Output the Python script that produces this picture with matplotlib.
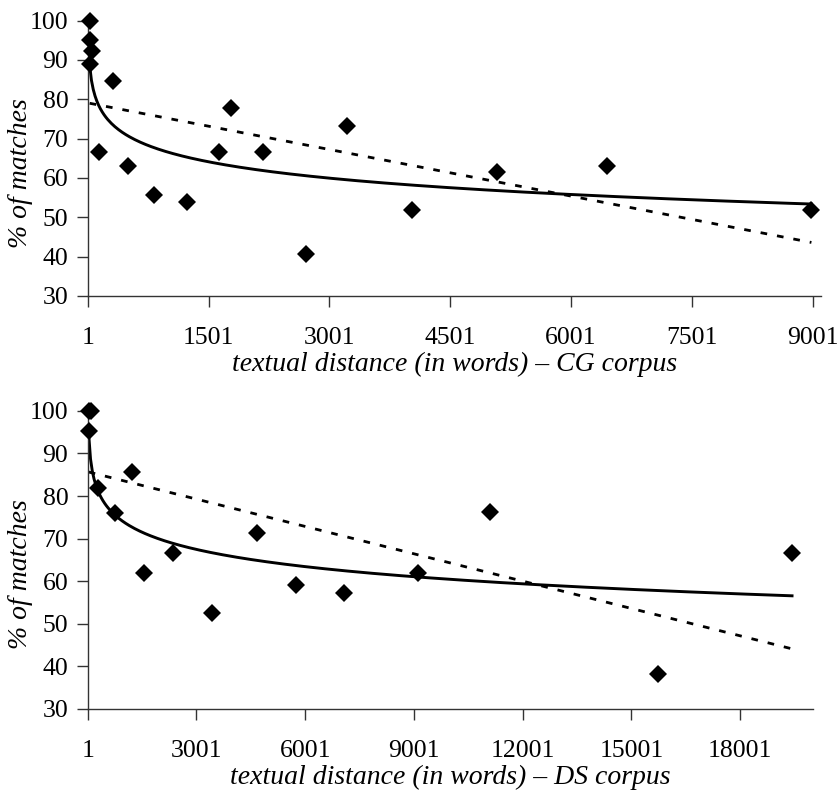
import numpy as np
import matplotlib
matplotlib.use("Agg")
import matplotlib.pyplot as plt

plt.rcParams['font.family'] = ['Liberation Serif', 'DejaVu Serif']

# CG corpus: textual distance (words) vs % of matches
cg_dist = [25, 25, 60, 30, 311, 145, 505, 828, 1234, 1632, 1781, 2183,
           2709, 3218, 4033, 5087, 6447, 8985]
cg_pct = [100, 95.2, 92.3, 89.0, 84.6, 66.7, 63.1, 55.6, 53.8, 66.7, 77.8,
          66.7, 40.7, 73.1, 51.9, 61.5, 63.0, 51.9]

# DS corpus
ds_dist = [30, 90, 30, 292, 753, 1213, 1561, 2361, 3420, 4661, 5745, 7077,
           9118, 11095, 15737, 19430]
ds_pct = [100, 100, 95.2, 81.8, 76.0, 85.7, 61.9, 66.7, 52.4, 71.4, 59.0,
          57.1, 61.9, 76.2, 38.1, 66.7]

# trend lines: log (a*ln x + b) and linear (m*x + c)
cg_log = (-6.0, 108.0)
cg_lin = (-0.00395, 79.1)
ds_log = (-5.84, 114.2)
ds_lin = (-0.002143, 85.7)

cg_ticks = [1, 1501, 3001, 4501, 6001, 7501, 9001]
ds_ticks = [1, 3001, 6001, 9001, 12001, 15001, 18001]


def draw(ax, dist, pct, log_fit, lin_fit, ticks, xmax, xlabel, ylab_xy):
    xs = np.linspace(min(dist), max(dist), 400)
    ax.plot(xs, log_fit[0] * np.log(xs) + log_fit[1], color='black', lw=2.1)
    ax.plot(xs, lin_fit[0] * xs + lin_fit[1], color='black', lw=2.0,
            dashes=(2.4, 3.6))
    ax.plot(dist, pct, linestyle='none', marker='D', ms=9, mew=0,
            color='black', clip_on=False, zorder=5)

    ax.set_xlim(1, xmax)
    ax.set_ylim(30, 100)
    ax.set_xticks(ticks)
    ax.set_xticklabels([str(t) for t in ticks])
    ax.set_yticks(range(30, 101, 10))
    ax.spines['top'].set_visible(False)
    ax.spines['right'].set_visible(False)
    for s in ['left', 'bottom']:
        ax.spines[s].set_color('#333333')
        ax.spines[s].set_linewidth(1.0)
    ax.tick_params(axis='y', direction='out', length=8, width=1,
                   color='#333333', labelsize=18.5, pad=6)
    ax.tick_params(axis='x', direction='out', length=8, width=1,
                   color='#333333', labelsize=18.5, pad=14.5)
    ax.set_xlabel(xlabel, fontsize=20, style='italic', labelpad=2)
    ax.set_ylabel('% of matches', fontsize=20, style='italic')
    ax.yaxis.set_label_coords(*ylab_xy)


fig = plt.figure(figsize=(8.4, 7.95), dpi=100)
ax1 = fig.add_axes([0.1044, 0.6277, 0.8726, 0.3463])
ax2 = fig.add_axes([0.1044, 0.1086, 0.8631, 0.3745])

draw(ax1, cg_dist, cg_pct, cg_log, cg_lin, cg_ticks, 9100,
     'textual distance (in words) \u2013 CG corpus', (-0.074, 0.445))
draw(ax2, ds_dist, ds_pct, ds_log, ds_lin, ds_ticks, 20000,
     'textual distance (in words) \u2013 DS corpus', (-0.075, 0.452))

fig.savefig('out.png', dpi=100)
